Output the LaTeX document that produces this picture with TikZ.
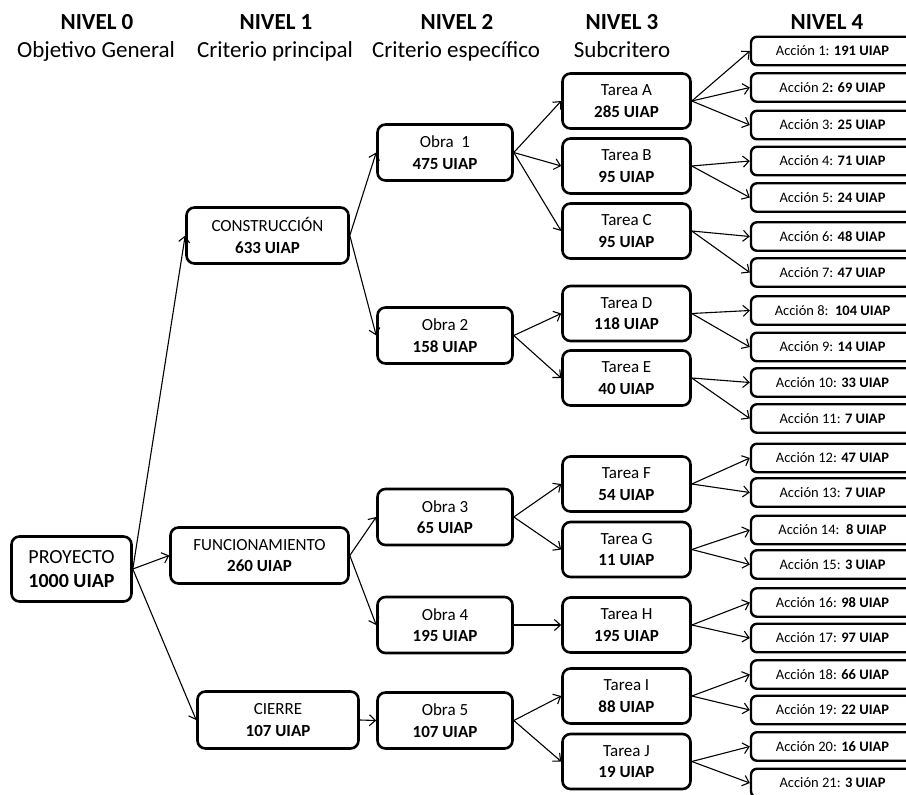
\documentclass[tikz,border=0pt]{standalone}
\usepackage{fontspec}
\setmainfont{Carlito}
\usetikzlibrary{arrows.meta}
\begin{document}
\begin{tikzpicture}[x=1pt,y=-1pt,
  box/.style={draw, line width=2.6pt, rounded corners=8pt, align=center, inner sep=0pt,
    font=\fontsize{17}{21.5}\selectfont},
  tbox/.style={box, minimum width=128pt, minimum height=55pt},
  obox/.style={box, minimum width=135pt, minimum height=56pt},
  acc/.style={draw, line width=2.4pt, rounded corners=6pt, minimum width=163pt,
    minimum height=28.5pt, inner sep=0pt, font=\fontsize{14.5}{17}\selectfont},
  hd/.style={anchor=base, inner sep=0pt, font=\fontsize{23}{26}\selectfont},
  arr/.style={line width=1.1pt, -{Straight Barb[length=6pt,width=11pt]}}]
\useasboundingbox (0,0) rectangle (906,795);
\clip (0,0) rectangle (906,795);
% headers
\node[hd] (h0) at (97,30) {\textbf{NIVEL 0}};
\node[hd] (s0) at (96,57) {Objetivo General};
\node[hd] (h1) at (276,30) {\textbf{NIVEL 1}};
\node[hd] (s1) at (275,57) {Criterio principal};
\node[hd] (h2) at (457,30) {\textbf{NIVEL 2}};
\node[hd] (s2) at (456,57) {Criterio específico};
\node[hd] (h3) at (622,30) {\textbf{NIVEL 3}};
\node[hd] (s3) at (622,57) {Subcritero};
\node[hd] (h4) at (827,30) {\textbf{NIVEL 4}};
% level 0
\node[box, minimum width=120pt, minimum height=65pt, font=\fontsize{20}{24}\selectfont] (p) at (71.5,569) {PROYECTO\\\textbf{1000 UIAP}};
% level 1
\node[box, minimum width=162pt, minimum height=56pt] (c1) at (267.5,235.5) {CONSTRUCCIÓN\\\textbf{633 UIAP}};
\node[box, minimum width=178pt, minimum height=56pt] (c2) at (259.5,555.5) {FUNCIONAMIENTO\\\textbf{260 UIAP}};
\node[box, minimum width=161pt, minimum height=57pt] (c3) at (278,720) {CIERRE\\\textbf{107 UIAP}};
% level 2
\node[obox] (o1) at (445,152.5) {Obra~~1\\\textbf{475 UIAP}};
\node[obox] (o2) at (445,335.5) {Obra 2\\\textbf{158 UIAP}};
\node[obox] (o3) at (445,517) {Obra 3\\\textbf{65 UIAP}};
\node[obox] (o4) at (445,625) {Obra 4\\\textbf{195 UIAP}};
\node[obox] (o5) at (445,720.5) {Obra 5\\\textbf{107 UIAP}};
% level 3
\node[tbox] (tA) at (626.5,101) {Tarea A\\\textbf{285 UIAP}};
\node[tbox] (tB) at (626.5,166) {Tarea B\\\textbf{95 UIAP}};
\node[tbox] (tC) at (626.5,231) {Tarea C\\\textbf{95 UIAP}};
\node[tbox] (tD) at (626.5,313.5) {Tarea D\\\textbf{118 UIAP}};
\node[tbox] (tE) at (626.5,378) {Tarea E\\\textbf{40 UIAP}};
\node[tbox] (tF) at (626.5,484) {Tarea F\\\textbf{54 UIAP}};
\node[tbox] (tG) at (626.5,549.5) {Tarea G\\\textbf{11 UIAP}};
\node[tbox] (tH) at (626.5,625) {Tarea H\\\textbf{195 UIAP}};
\node[tbox] (tI) at (626.5,696) {Tarea I\\\textbf{88 UIAP}};
\node[tbox] (tJ) at (626.5,761.5) {Tarea J\\\textbf{19 UIAP}};
% level 4
\node[acc] (a1) at (832.5,51) {Acción 1: \textbf{191 UIAP}};
\node[acc] (a2) at (832.5,87.5) {Acción 2\textbf{: 69 UIAP}};
\node[acc] (a3) at (832.5,125) {Acción 3: \textbf{25 UIAP}};
\node[acc] (a4) at (832.5,161) {Acción 4: \textbf{71 UIAP}};
\node[acc] (a5) at (832.5,197.5) {Acción 5: \textbf{24 UIAP}};
\node[acc] (a6) at (832.5,236.5) {Acción 6: \textbf{48 UIAP}};
\node[acc] (a7) at (832.5,272.5) {Acción 7: \textbf{47 UIAP}};
\node[acc] (a8) at (832.5,310.5) {Acción 8:~~\textbf{104 UIAP}};
\node[acc] (a9) at (832.5,347) {Acción 9: \textbf{14 UIAP}};
\node[acc] (a10) at (832.5,382.5) {Acción 10: \textbf{33 UIAP}};
\node[acc] (a11) at (832.5,418.5) {Acción 11: \textbf{7 UIAP}};
\node[acc] (a12) at (832.5,458) {Acción 12: \textbf{47 UIAP}};
\node[acc] (a13) at (832.5,492.5) {Acción 13: \textbf{7 UIAP}};
\node[acc] (a14) at (832.5,530) {Acción 14:~~\textbf{8 UIAP}};
\node[acc] (a15) at (832.5,564.5) {Acción 15: \textbf{3 UIAP}};
\node[acc] (a16) at (832.5,602.5) {Acción 16: \textbf{98 UIAP}};
\node[acc] (a17) at (832.5,638) {Acción 17: \textbf{97 UIAP}};
\node[acc] (a18) at (832.5,674.5) {Acción 18: \textbf{66 UIAP}};
\node[acc] (a19) at (832.5,710) {Acción 19: \textbf{22 UIAP}};
\node[acc] (a20) at (832.5,746.5) {Acción 20: \textbf{16 UIAP}};
\node[acc] (a21) at (832.5,783) {Acción 21: \textbf{3 UIAP}};
% connectors
\draw[arr] (p.east) -- (c1.west);
\draw[arr] (p.east) -- (c2.west);
\draw[arr] (p.east) -- (c3.west);
\draw[arr] (c1.east) -- (o1.west);
\draw[arr] (c1.east) -- (o2.west);
\draw[arr] (c2.east) -- (o3.west);
\draw[arr] (c2.east) -- (o4.west);
\draw[arr] (c3.east) -- (o5.west);
\draw[arr] (o1.east) -- (tA.west);
\draw[arr] (o1.east) -- (tB.west);
\draw[arr] (o1.east) -- (tC.west);
\draw[arr] (o2.east) -- (tD.west);
\draw[arr] (o2.east) -- (tE.west);
\draw[arr] (o3.east) -- (tF.west);
\draw[arr] (o3.east) -- (tG.west);
\draw[arr] (o4.east) -- (tH.west);
\draw[arr] (o5.east) -- (tI.west);
\draw[arr] (o5.east) -- (tJ.west);
\draw[arr] (tA.east) -- (a1.west);
\draw[arr] (tA.east) -- (a2.west);
\draw[arr] (tA.east) -- (a3.west);
\draw[arr] (tB.east) -- (a4.west);
\draw[arr] (tB.east) -- (a5.west);
\draw[arr] (tC.east) -- (a6.west);
\draw[arr] (tC.east) -- (a7.west);
\draw[arr] (tD.east) -- (a8.west);
\draw[arr] (tD.east) -- (a9.west);
\draw[arr] (tE.east) -- (a10.west);
\draw[arr] (tE.east) -- (a11.west);
\draw[arr] (tF.east) -- (a12.west);
\draw[arr] (tF.east) -- (a13.west);
\draw[arr] (tG.east) -- (a14.west);
\draw[arr] (tG.east) -- (a15.west);
\draw[arr] (tH.east) -- (a16.west);
\draw[arr] (tH.east) -- (a17.west);
\draw[arr] (tI.east) -- (a18.west);
\draw[arr] (tI.east) -- (a19.west);
\draw[arr] (tJ.east) -- (a20.west);
\draw[arr] (tJ.east) -- (a21.west);
\end{tikzpicture}
\end{document}
